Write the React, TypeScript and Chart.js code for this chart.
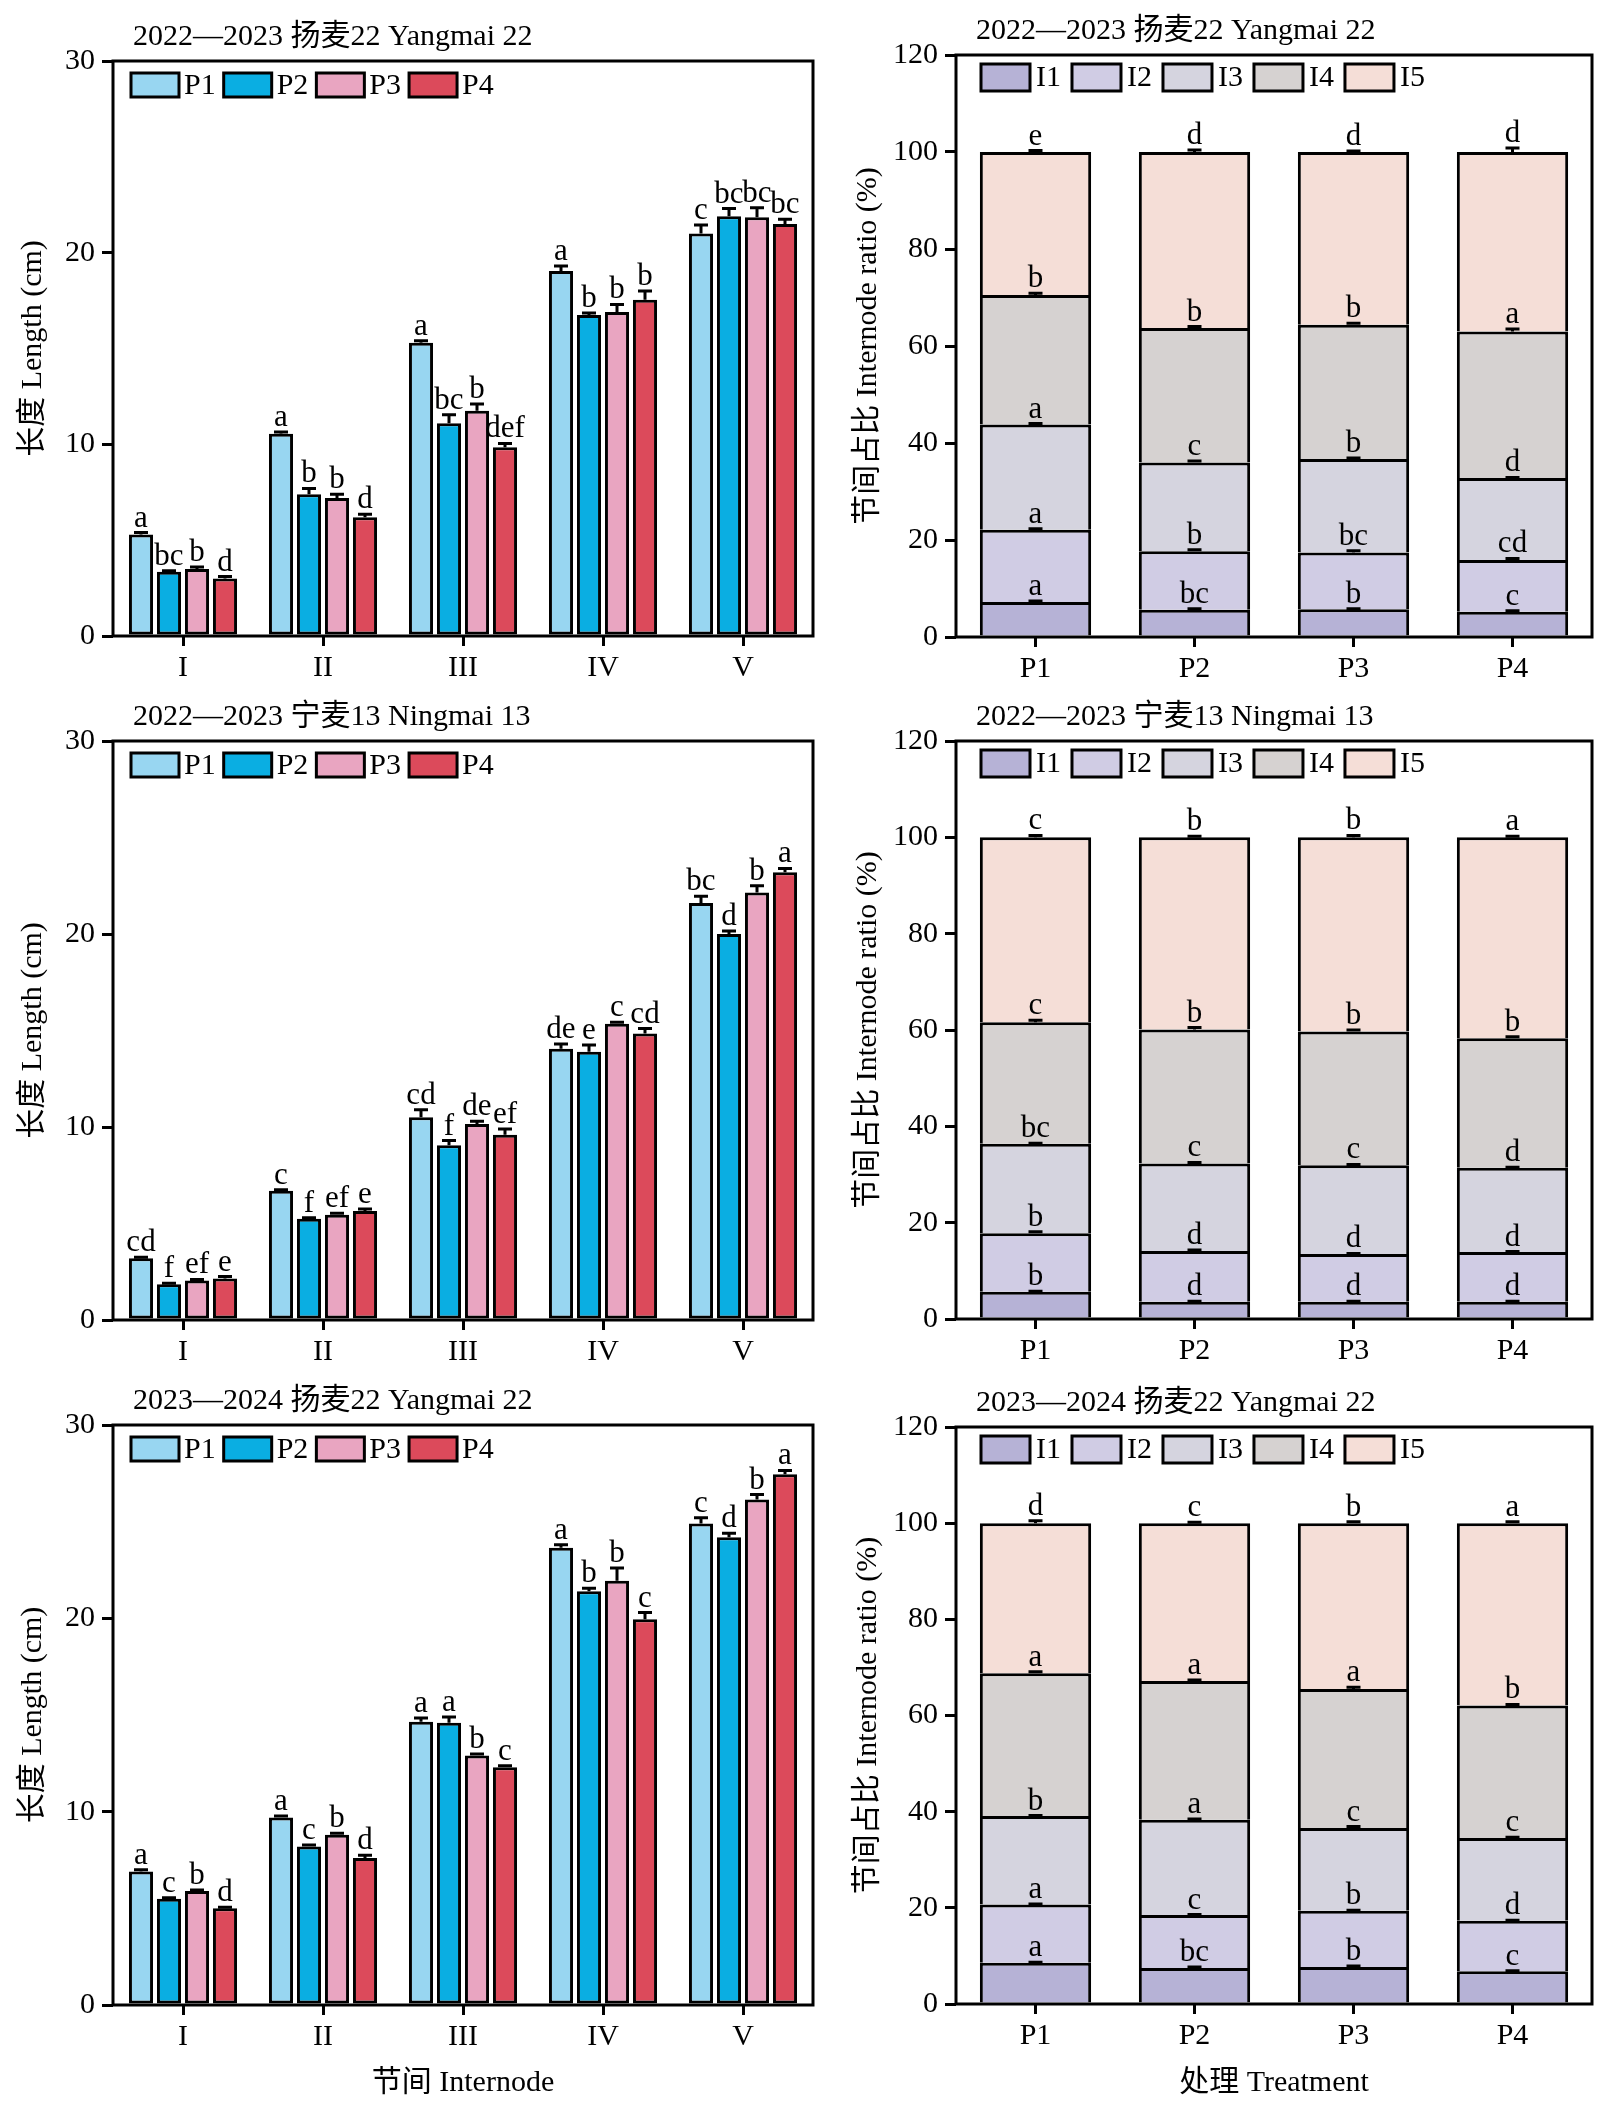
import { useEffect, useRef } from 'react'
import { Chart, registerables } from 'chart.js'

Chart.register(...registerables)

const FONT = '"Liberation Serif", "Noto Sans CJK SC", serif'

// categories
const internodes = ['I', 'II', 'III', 'IV', 'V']
const treatments = ['P1', 'P2', 'P3', 'P4']
const segments = ['I1', 'I2', 'I3', 'I4', 'I5']

const treatColors = ['#98D6F1', '#0AAEE2', '#E9A5C1', '#DC4A5B']
const segColors = ['#B6B2D6', '#D0CCE4', '#D5D4DF', '#D6D2D1', '#F5DED7']

// 2022-2023 Yangmai 22, internode length (cm), rows = P1..P4
const lenA = [
  [5.3, 10.55, 15.3, 19.05, 21.0],
  [3.35, 7.4, 11.1, 16.75, 21.9],
  [3.5, 7.2, 11.75, 16.9, 21.85],
  [3.0, 6.2, 9.85, 17.55, 21.5],
]
const errA = [
  [0.1, 0.1, 0.1, 0.25, 0.45],
  [0.05, 0.3, 0.45, 0.1, 0.4],
  [0.1, 0.2, 0.35, 0.4, 0.5],
  [0.1, 0.15, 0.2, 0.45, 0.25],
]
const letA = [
  ['a', 'a', 'a', 'a', 'c'],
  ['bc', 'b', 'bc', 'b', 'bc'],
  ['b', 'b', 'b', 'b', 'bc'],
  ['d', 'd', 'def', 'b', 'bc'],
]

// 2022-2023 Ningmai 13
const lenB = [
  [3.2, 6.7, 10.5, 14.05, 21.6],
  [1.85, 5.25, 9.05, 13.9, 20.0],
  [2.05, 5.45, 10.15, 15.35, 22.15],
  [2.15, 5.65, 9.6, 14.85, 23.2],
]
const errB = [
  [0.05, 0.05, 0.4, 0.25, 0.35],
  [0.05, 0.05, 0.25, 0.35, 0.15],
  [0.05, 0.08, 0.15, 0.08, 0.35],
  [0.1, 0.1, 0.3, 0.25, 0.2],
]
const letB = [
  ['cd', 'c', 'cd', 'de', 'bc'],
  ['f', 'f', 'f', 'e', 'd'],
  ['ef', 'ef', 'de', 'c', 'b'],
  ['e', 'e', 'ef', 'cd', 'a'],
]

// 2023-2024 Yangmai 22
const lenC = [
  [6.9, 9.7, 14.65, 23.65, 24.9],
  [5.5, 8.2, 14.6, 21.4, 24.2],
  [5.9, 8.8, 12.9, 21.95, 26.15],
  [5.0, 7.6, 12.3, 19.95, 27.45],
]
const errC = [
  [0.1, 0.08, 0.2, 0.15, 0.3],
  [0.05, 0.08, 0.3, 0.15, 0.2],
  [0.05, 0.08, 0.08, 0.65, 0.25],
  [0.05, 0.15, 0.08, 0.35, 0.2],
]
const letC = [
  ['a', 'a', 'a', 'a', 'c'],
  ['c', 'c', 'a', 'b', 'd'],
  ['b', 'b', 'b', 'b', 'b'],
  ['d', 'd', 'c', 'c', 'a'],
]

// internode ratio (%), rows = I1..I5, columns = P1..P4
const ratioD = [
  [7.2, 5.6, 5.7, 5.2],
  [14.9, 12.1, 11.7, 10.7],
  [21.7, 18.3, 19.3, 16.9],
  [26.7, 27.7, 27.7, 30.2],
  [29.5, 36.3, 35.6, 37.0],
]
const rErrD = [
  [0.2, 0.2, 0.1, 0.2],
  [0.2, 0.3, 0.4, 0.3],
  [0.2, 0.3, 0.2, 0.1],
  [0.4, 0.3, 0.3, 0.5],
  [0.3, 0.4, 0.2, 0.8],
]
const rLetD = [
  ['a', 'bc', 'b', 'c'],
  ['a', 'b', 'bc', 'cd'],
  ['a', 'c', 'b', 'd'],
  ['b', 'b', 'b', 'a'],
  ['e', 'd', 'd', 'd'],
]

const ratioE = [
  [5.65, 3.6, 3.6, 3.6],
  [12.15, 10.5, 9.9, 10.3],
  [18.6, 18.2, 18.4, 17.5],
  [25.2, 27.8, 27.8, 26.9],
  [38.4, 39.9, 40.3, 41.7],
]
const rErrE = [
  [0.1, 0.1, 0.1, 0.1],
  [0.3, 0.2, 0.1, 0.1],
  [0.1, 0.2, 0.2, 0.1],
  [0.4, 0.4, 0.3, 0.3],
  [0.4, 0.2, 0.4, 0.2],
]
const rLetE = [
  ['b', 'd', 'd', 'd'],
  ['b', 'd', 'd', 'd'],
  ['bc', 'c', 'c', 'd'],
  ['c', 'b', 'b', 'b'],
  ['c', 'b', 'b', 'a'],
]

const ratioF = [
  [8.6, 7.5, 7.7, 6.8],
  [12.1, 11.0, 11.7, 10.5],
  [18.4, 19.8, 17.2, 17.2],
  [29.7, 28.9, 28.9, 27.6],
  [31.2, 32.8, 34.5, 37.9],
]
const rErrF = [
  [0.1, 0.2, 0.2, 0.1],
  [0.1, 0.1, 0.1, 0.1],
  [0.1, 0.2, 0.3, 0.2],
  [0.3, 0.2, 0.4, 0.2],
  [0.5, 0.2, 0.3, 0.3],
]
const rLetF = [
  ['a', 'bc', 'b', 'c'],
  ['a', 'c', 'b', 'd'],
  ['b', 'a', 'c', 'c'],
  ['a', 'a', 'a', 'b'],
  ['d', 'c', 'b', 'a'],
]

type Legend = { dx: number; dy: number; w: number; h: number; gap: number; after: number }

type Panel = {
  stacked: boolean
  title: string
  yTitle: string
  xTitle?: string
  cats: string[]
  names: string[]
  colors: string[]
  values: number[][]
  errors: number[][]
  letters: string[][]
  yMax: number
  yStep: number
  box: number[] // canvas left, top, width, height (page px)
  plot: number[] // plot left, top, right, bottom (page px)
  yTitleX: number
  xTitleY: number
  legend: Legend
}

const legGroup: Legend = { dx: 18, dy: 12, w: 48, h: 24, gap: 5, after: 8 }
const legStack: Legend = { dx: 25, dy: 9, w: 49, h: 27, gap: 6, after: 11 }

const yLen = '长度 Length (cm)'
const yRatio = '节间占比 Internode ratio (%)'

const panels: Panel[] = [
  {
    stacked: false, title: '2022—2023 扬麦22 Yangmai 22', yTitle: yLen,
    cats: internodes, names: treatments, colors: treatColors,
    values: lenA, errors: errA, letters: letA, yMax: 30, yStep: 10,
    box: [0, 0, 830, 690], plot: [113, 61, 813, 636], yTitleX: 33, xTitleY: 0, legend: legGroup,
  },
  {
    stacked: true, title: '2022—2023 扬麦22 Yangmai 22', yTitle: yRatio,
    cats: treatments, names: segments, colors: segColors,
    values: ratioD, errors: rErrD, letters: rLetD, yMax: 120, yStep: 20,
    box: [830, 0, 778, 690], plot: [956, 55, 1592, 637], yTitleX: 868, xTitleY: 0, legend: legStack,
  },
  {
    stacked: false, title: '2022—2023 宁麦13 Ningmai 13', yTitle: yLen,
    cats: internodes, names: treatments, colors: treatColors,
    values: lenB, errors: errB, letters: letB, yMax: 30, yStep: 10,
    box: [0, 690, 830, 680], plot: [113, 741, 813, 1320], yTitleX: 33, xTitleY: 0, legend: legGroup,
  },
  {
    stacked: true, title: '2022—2023 宁麦13 Ningmai 13', yTitle: yRatio,
    cats: treatments, names: segments, colors: segColors,
    values: ratioE, errors: rErrE, letters: rLetE, yMax: 120, yStep: 20,
    box: [830, 690, 778, 680], plot: [956, 741, 1592, 1319], yTitleX: 868, xTitleY: 0, legend: legStack,
  },
  {
    stacked: false, title: '2023—2024 扬麦22 Yangmai 22', yTitle: yLen, xTitle: '节间 Internode',
    cats: internodes, names: treatments, colors: treatColors,
    values: lenC, errors: errC, letters: letC, yMax: 30, yStep: 10,
    box: [0, 1370, 830, 746], plot: [113, 1425, 813, 2005], yTitleX: 33, xTitleY: 2091, legend: legGroup,
  },
  {
    stacked: true, title: '2023—2024 扬麦22 Yangmai 22', yTitle: yRatio, xTitle: '处理 Treatment',
    cats: treatments, names: segments, colors: segColors,
    values: ratioF, errors: rErrF, letters: rLetF, yMax: 120, yStep: 20,
    box: [830, 1370, 778, 746], plot: [956, 1427, 1592, 2004], yTitleX: 868, xTitleY: 2091, legend: legStack,
  },
]

const decor = (p: Panel) => ({
  id: 'decor',
  afterDatasetsDraw(chart: any) {
    const ctx: CanvasRenderingContext2D = chart.ctx
    const ys = chart.scales.y
    const a = chart.chartArea
    const [cx, cy] = p.box
    ctx.save()
    ctx.lineWidth = 3
    ctx.strokeStyle = '#000'
    ctx.fillStyle = '#000'
    const zero = ys.getPixelForValue(0)

    // error bars + significance letters
    ctx.font = `31px ${FONT}`
    ctx.textAlign = 'center'
    ctx.textBaseline = 'alphabetic'
    p.values.forEach((row, i) => {
      const meta = chart.getDatasetMeta(i)
      row.forEach((_, j) => {
        const el = meta.data[j]
        const top = el.y - (zero - ys.getPixelForValue(p.errors[i][j]))
        ctx.beginPath()
        ctx.moveTo(el.x, el.y)
        ctx.lineTo(el.x, top)
        ctx.moveTo(el.x - 7, top)
        ctx.lineTo(el.x + 7, top)
        ctx.stroke()
        ctx.fillText(p.letters[i][j], el.x, top - 6)
      })
    })

    // frame
    ctx.strokeRect(a.left, a.top, a.right - a.left, a.bottom - a.top)

    // legend
    const L = p.legend
    let x = a.left + L.dx
    const by = a.top + L.dy
    ctx.font = `30px ${FONT}`
    ctx.textAlign = 'left'
    ctx.textBaseline = 'middle'
    p.names.forEach((n, i) => {
      ctx.fillStyle = p.colors[i]
      ctx.fillRect(x, by, L.w, L.h)
      ctx.strokeRect(x, by, L.w, L.h)
      ctx.fillStyle = '#000'
      ctx.fillText(n, x + L.w + L.gap, by + L.h / 2 + 1)
      x += L.w + L.gap + ctx.measureText(n).width + L.after
    })

    // panel title
    ctx.textBaseline = 'alphabetic'
    ctx.fillText(p.title, a.left + 20, a.top - 16)

    // axis titles
    ctx.save()
    ctx.translate(p.yTitleX - cx, (a.top + a.bottom) / 2)
    ctx.rotate(-Math.PI / 2)
    ctx.textAlign = 'center'
    ctx.textBaseline = 'middle'
    ctx.fillText(p.yTitle, 0, 0)
    ctx.restore()
    if (p.xTitle) {
      ctx.textAlign = 'center'
      ctx.fillText(p.xTitle, (a.left + a.right) / 2, p.xTitleY - cy)
    }
    ctx.restore()
  },
})

const ChartPanel = ({ p }: { p: Panel }) => {
  const canvas = useRef<HTMLCanvasElement>(null)
  const [cx, cy, cw, ch] = p.box

  useEffect(() => {
    if (!canvas.current) return
    const [pl, pt, pr, pb] = p.plot
    const tickFont = { family: FONT, size: 30 }
    const chart = new Chart(canvas.current, {
      type: 'bar',
      data: {
        labels: p.cats,
        datasets: p.names.map((name, i) => ({
          label: name,
          data: p.values[i],
          backgroundColor: p.colors[i],
          borderColor: '#000',
          borderWidth: 3,
          borderSkipped: p.stacked ? 'start' : false,
          categoryPercentage: p.stacked ? 1 : 0.8,
          barPercentage: p.stacked ? 0.7 : 0.86,
        })),
      },
      options: {
        animation: false,
        responsive: false,
        devicePixelRatio: 1,
        layout: { padding: { left: 0, top: pt - cy, right: cx + cw - pr, bottom: 0 } },
        plugins: { legend: { display: false }, tooltip: { enabled: false } },
        scales: {
          x: {
            stacked: p.stacked,
            grid: { offset: false, drawOnChartArea: false, tickLength: 10, color: '#000', lineWidth: 3 },
            border: { display: false },
            ticks: { font: tickFont, color: '#000', padding: 4, maxRotation: 0 },
            afterFit: (s: any) => {
              s.height = cy + ch - pb
            },
          },
          y: {
            stacked: p.stacked,
            min: 0,
            max: p.yMax,
            grid: { drawOnChartArea: false, tickLength: 11, color: '#000', lineWidth: 3 },
            border: { display: false },
            ticks: { stepSize: p.yStep, font: tickFont, color: '#000', padding: 7 },
            afterFit: (s: any) => {
              s.width = pl - cx
            },
          },
        },
      } as any,
      plugins: [decor(p)],
    })
    return () => {
      chart.destroy()
    }
  }, [])

  return (
    <canvas
      ref={canvas}
      width={cw}
      height={ch}
      style={{ position: 'absolute', left: cx, top: cy, width: cw, height: ch }}
    />
  )
}

export default function App() {
  return (
    <div style={{ position: 'relative', width: 1608, height: 2116, background: '#fff' }}>
      <style>{'body{margin:0}'}</style>
      {panels.map((p, i) => (
        <ChartPanel key={i} p={p} />
      ))}
    </div>
  )
}
